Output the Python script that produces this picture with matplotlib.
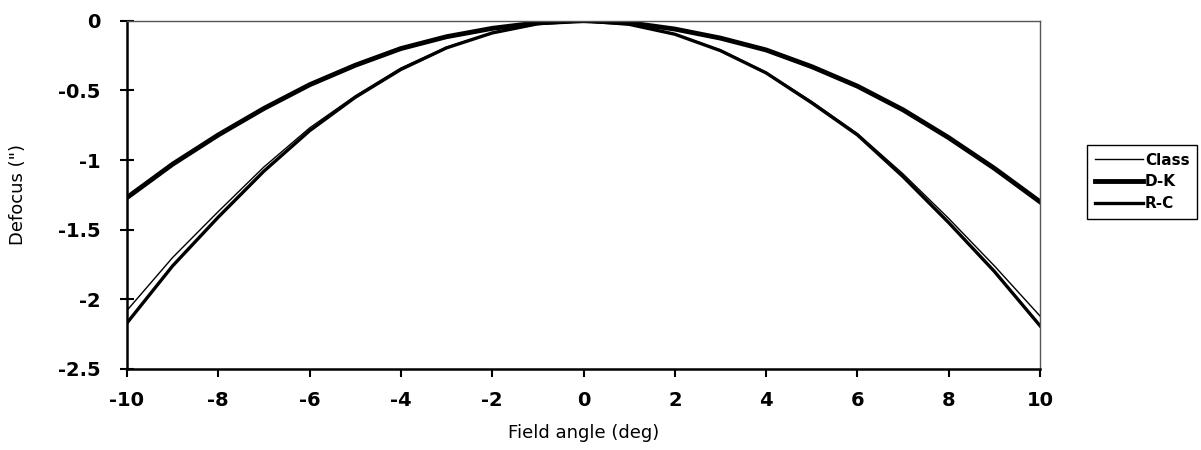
import numpy as np
import matplotlib
matplotlib.use("Agg")
from matplotlib import pyplot as plt

# field angle (deg)
angle = np.arange(-10, 11)

# defocus values
classic = [-2.08, -1.70, -1.37, -1.05, -0.77, -0.54, -0.34, -0.19, -0.085, -0.02, 0.0,
           -0.025, -0.095, -0.21, -0.37, -0.58, -0.81, -1.10, -1.42, -1.76, -2.12]
dk = [-1.27, -1.03, -0.82, -0.63, -0.46, -0.32, -0.20, -0.115, -0.055, -0.015, 0.0,
      -0.015, -0.06, -0.125, -0.21, -0.33, -0.47, -0.64, -0.84, -1.06, -1.30]
rc = [-2.17, -1.76, -1.41, -1.08, -0.79, -0.55, -0.35, -0.195, -0.088, -0.022, 0.0,
      -0.026, -0.097, -0.215, -0.375, -0.59, -0.82, -1.12, -1.45, -1.80, -2.19]

xticks = np.arange(-10, 11, 2)
yticks = [0, -0.5, -1, -1.5, -2, -2.5]
ytick_labels = ["0", "-0.5", "-1", "-1.5", "-2", "-2.5"]

fig = plt.figure(figsize=(12.01, 4.5), dpi=100)
ax = fig.add_axes([0.1057, 0.18, 0.7603, 0.774])

ax.plot(angle, classic, color="black", lw=1.0, label="Class")
ax.plot(angle, dk, color="black", lw=3.5, label="D-K")
ax.plot(angle, rc, color="black", lw=2.4, label="R-C")

ax.set_xlim(-10, 10)
ax.set_ylim(-2.5, 0)
ax.set_xticks(xticks)
ax.set_xticklabels([str(t) for t in xticks], fontsize=14, fontweight="bold")
ax.set_yticks(yticks)
ax.set_yticklabels(ytick_labels, fontsize=14, fontweight="bold")

for s in ["left", "bottom"]:
    ax.spines[s].set_linewidth(1.8)
    ax.spines[s].set_color("black")
for s in ["top", "right"]:
    ax.spines[s].set_linewidth(1.0)
    ax.spines[s].set_color("#555555")

ax.tick_params(axis="x", direction="out", length=6, width=1.5, pad=10)
ax.tick_params(axis="y", direction="inout", length=10, width=1.5, pad=14)

ax.set_xlabel("Field angle (deg)", fontsize=13, labelpad=10)
ax.set_ylabel('Defocus (")', fontsize=13, labelpad=22)

fig.legend(loc="upper left", bbox_to_anchor=(0.905, 0.678), borderaxespad=0,
           fancybox=False, edgecolor="black", framealpha=1,
           handlelength=3.2, handletextpad=0.1, borderpad=0.5, labelspacing=0.45,
           prop={"weight": "bold", "size": 11})

fig.savefig("out.png", dpi=100)
